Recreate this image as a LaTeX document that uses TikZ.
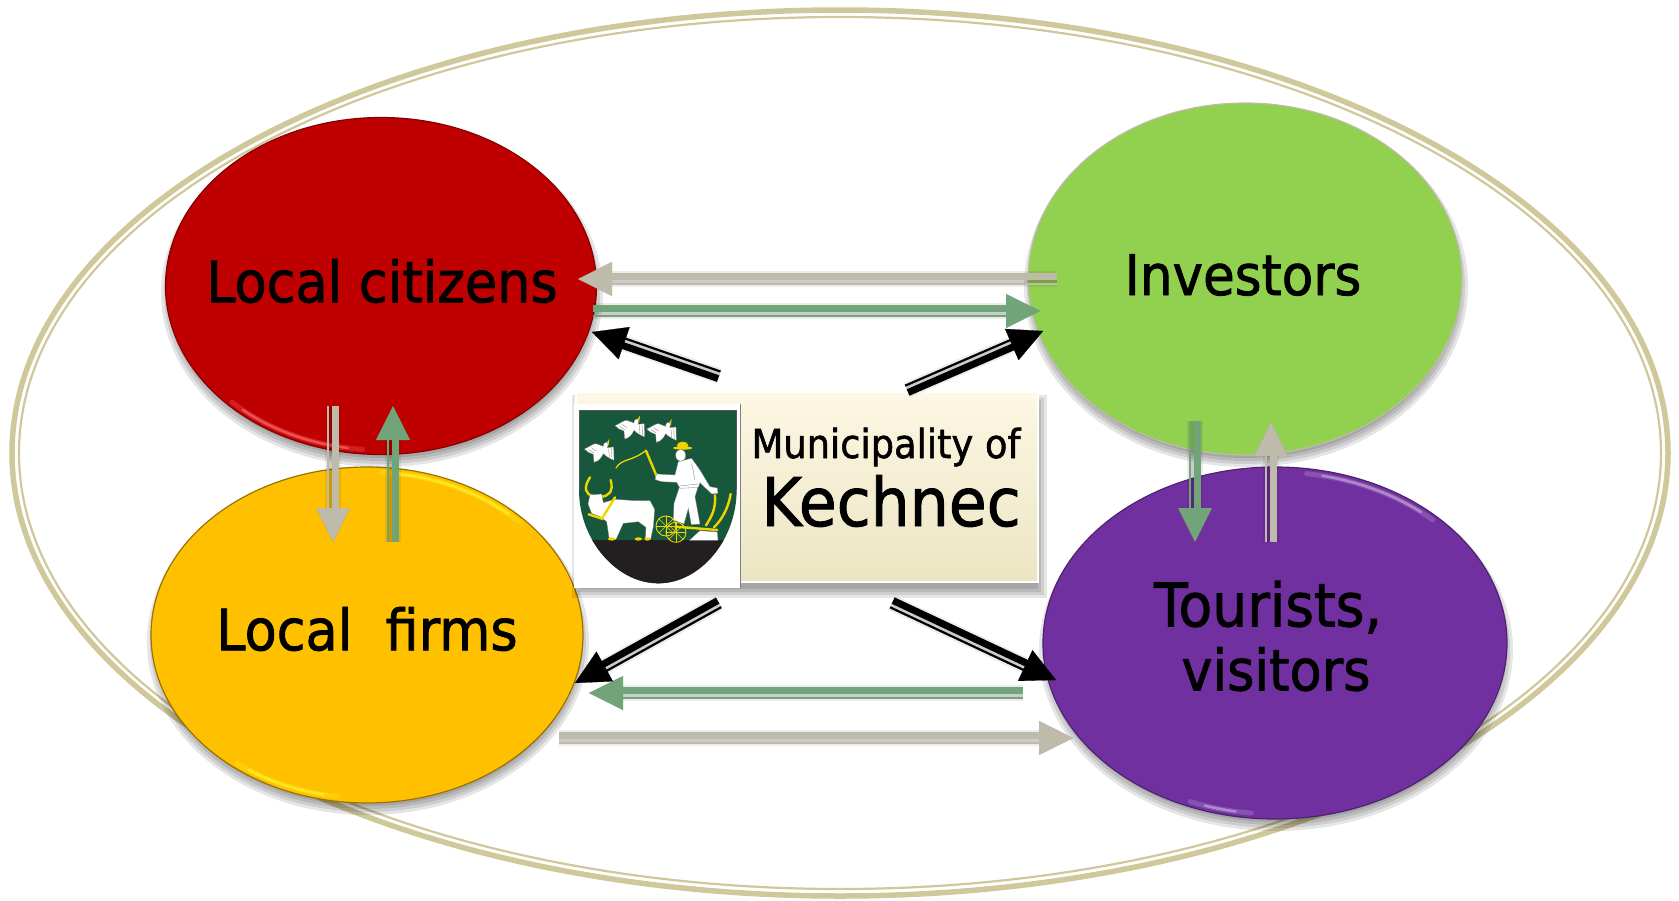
\documentclass[tikz,border=0pt]{standalone}
\usepackage{fontspec}
\setmainfont[FakeStretch=0.92,FakeBold=1.4]{DejaVu Sans}
\usetikzlibrary{arrows.meta, calc, shapes.geometric}
\definecolor{ringtan}{HTML}{CFC89A}
\definecolor{flowtan}{HTML}{BEBBAB}
\definecolor{flowgreen}{HTML}{72A479}
\definecolor{citizenred}{HTML}{BF0000}
\definecolor{firmyellow}{HTML}{FFC000}
\definecolor{investgreen}{HTML}{92D050}
\definecolor{touristviolet}{HTML}{7030A0}
\definecolor{shieldgreen}{HTML}{17573B}
\definecolor{shieldblack}{HTML}{231F20}
\definecolor{plowyellow}{HTML}{F0D400}
\definecolor{boxtop}{HTML}{FDF7E4}
\definecolor{boxbottom}{HTML}{ECE5C3}
\tikzset{
  bubble/.style={ellipse, inner sep=0pt, line width=1.2pt},
  bubbletext/.style={font=\fontsize{57}{64}\selectfont, text=black},
  hdrsmall/.style={anchor=base, font=\fontsize{40}{44}\selectfont},
  hdrbig/.style={anchor=base, font=\fontsize{67}{70}\selectfont},
  feather/.style={draw=gray, line width=.35pt},
  whitepart/.style={fill=white, draw=gray, line width=.3pt},
  yellowpart/.style={draw=plowyellow, line width=2.4pt, line cap=round}
}
% one flow arrow: colour, start, tip, side of the thin line
\newcommand{\flowarrow}[4]{
  \foreach \w in {16,12,8}
    \draw[black, opacity=.07, line width=\w pt, shift={(1,4)}] (#2) -- ($(#3)!32pt!(#2)$);
  \draw[black, opacity=.18, line width=.1pt, shift={(1,4)}, -{Triangle[length=34pt,width=34pt]}] (#2) -- (#3);
  \draw[#1, line width=.1pt, -{Triangle[length=34pt,width=34pt]}] (#2) -- (#3);
  \draw[#1, line width=7pt] ($(#2)!#4*-2.7pt!90:(#3)$) -- ($(#3)!32pt!(#2)!#4*-2.7pt!-90:(#2)$);
  \draw[#1, line width=2.2pt] ($(#2)!#4*4.7pt!90:(#3)$) -- ($(#3)!32pt!(#2)!#4*4.7pt!-90:(#2)$);
}
% light rim on a bubble: cx, cy, rx, ry, from, to, colour
\newcommand{\rimarc}[7]{
  \draw[#7, line width=5pt, line cap=round, domain=#5:#6, samples=30, opacity=.3]
    plot ({#1+(#3-5)*cos(\x)},{#2+(#4-5)*sin(\x)});
  \draw[#7, line width=2.5pt, line cap=round, domain=#5+4:#6-4, samples=30, opacity=.7]
    plot ({#1+(#3-5)*cos(\x)},{#2+(#4-5)*sin(\x)});
}
\newcommand{\dove}[2]{
  \begin{scope}[shift={(#1,#2)}]
    \fill[plowyellow] (20,-24) -- (30,-38) -- (28,-20) -- cycle;
    \filldraw[whitepart] (-45,-8) .. controls (-30,-14) and (-20,-24) .. (-10,-24) .. controls (0,-22) and (8,-16) .. (12,-16) .. controls (12,-26) and (18,-30) .. (24,-28) .. controls (28,-24) and (26,-16) .. (24,-12) -- (43,-14) -- (44,26) .. controls (30,20) and (20,14) .. (12,6) .. controls (6,18) and (0,28) .. (-16,32) -- (-18,8) .. controls (-28,6) and (-36,0) .. (-45,-8) -- cycle;
    \draw[feather] (28,-8) -- (30,16) (36,-10) -- (38,20) (-32,-6) -- (-16,4) (-24,-12) -- (-10,-2);
  \end{scope}
}
\begin{document}
\begin{tikzpicture}[x=1pt,y=-1pt]
\useasboundingbox (0,0) rectangle (1679,900);
% outer ring
\draw[ringtan, line width=5.5pt] (840,453) ellipse [x radius=828, y radius=443];
\draw[ringtan, line width=2.2pt] (840,453) ellipse [x radius=821, y radius=436];
% soft shadows under the bubbles
\foreach \cx/\cy/\rx/\ry in {381/286/216/169, 1245/279/217/176, 367/635/216/168, 1275/643/232/176}
  \foreach \g in {5,2,-1,-4}
    \fill[black, opacity=.1] (\cx+1,\cy+7) ellipse [x radius=\rx+\g, y radius=\ry+\g];
% bubbles
\node[bubble, fill=citizenred, draw=citizenred!70!black, minimum width=431pt, minimum height=337pt] (citizens) at (381,286) {};
\node[bubble, fill=investgreen, draw=flowtan, minimum width=434pt, minimum height=352pt] (investors) at (1245,279) {};
\node[bubble, fill=firmyellow, draw=firmyellow!60!black, minimum width=432pt, minimum height=336pt] (firms) at (367,635) {};
\node[bubble, fill=touristviolet, draw=touristviolet!70!black, minimum width=464pt, minimum height=352pt] (tourists) at (1275,643) {};
\rimarc{381}{286}{216}{169}{95}{135}{red!60!white}
\rimarc{367}{635}{216}{168}{-86}{-44}{yellow!85!white}
\rimarc{367}{635}{216}{168}{98}{128}{yellow!85!white}
\rimarc{1275}{643}{232}{176}{-82}{-46}{touristviolet!45!white}
\rimarc{1275}{643}{232}{176}{96}{112}{touristviolet!45!white}
% bubble texts
\node[bubbletext] (citizenstext) at (382,281) {Local citizens};
\node[bubbletext, font=\fontsize{56}{64}\selectfont] (investorstext) at (1243,275) {Investors};
\node[bubbletext] (firmstext) at (367,629) {Local\ \ firms};
\node[bubbletext, align=center] (touriststext) at (1276,636) {{\fontsize{60}{64}\selectfont Tourists,\hspace*{16pt}}\\visitors};
% centre box
\foreach \g in {5,2,-1,-4}
  \fill[black, opacity=.1] (575-\g+2,391+9-\g) rectangle (1040+\g+2,584+9+\g);
\node[draw=white, line width=2.5pt, top color=boxtop, bottom color=boxbottom, minimum width=462pt, minimum height=190pt, inner sep=0pt] (muni) at (807,487) {};
\node[hdrsmall] (munitext) at (886,458) {Municipality of};
\node[hdrbig] (kechnectext) at (891,526) {Kechnec};
% coat of arms
\fill[white] (574,404) rectangle (740,588);
\draw[gray, line width=.8pt] (740,404) -- (740,588);
\begin{scope}[shift={(560,380)},x=0.3333pt,y=-0.3333pt]
  \fill[shieldgreen] (57,92) -- (530,92) -- (530,330) .. controls (530,480) and (420,610) .. (295,610) .. controls (170,610) and (57,480) .. (57,330) -- cycle;
  \begin{scope}
    \clip (57,92) -- (530,92) -- (530,330) .. controls (530,480) and (420,610) .. (295,610) .. controls (170,610) and (57,480) .. (57,330) -- cycle;
    \fill[shieldblack] (40,481) rectangle (545,620);
  \end{scope}
  \draw[gray!70!black, line width=.9pt] (530,330) -- (530,92) -- (57,92) -- (57,330);
  \dove{118}{215}
  \dove{210}{145}
  \dove{305}{155}
  % whip
  \draw[yellowpart, line width=1.3pt] (168,264) .. controls (185,235) and (215,245) .. (257,212);
  \draw[yellowpart] (258,212) -- (295,300);
  % man
  \filldraw[whitepart] (340,420) -- (342,370) -- (358,322) -- (415,318) -- (405,350) -- (420,432) -- (394,434) -- (385,385) -- (372,432) -- cycle;
  \filldraw[whitepart] (355,245) -- (395,235) -- (420,270) -- (450,320) -- (472,324) -- (474,340) -- (455,342) -- (420,308) -- (415,322) -- (360,325) -- (350,307) -- (305,305) -- (285,298) -- (290,282) -- (345,285) -- cycle;
  \filldraw[whitepart] (362,226) ellipse [x radius=15, y radius=18];
  \fill[plowyellow] (368,204) ellipse [x radius=29, y radius=5];
  \fill[plowyellow] (368,196) ellipse [x radius=17, y radius=11];
  \draw[feather] (360,318) -- (415,312) (395,250) -- (405,300);
  % ox
  \draw[yellowpart] (90,292) .. controls (68,325) and (78,345) .. (100,348);
  \draw[yellowpart] (152,300) .. controls (162,335) and (145,350) .. (122,350);
  \filldraw[whitepart] (130,368) -- (165,358) -- (225,362) -- (270,362) -- (284,388) -- (280,440) -- (272,478) -- (256,478) -- (258,442) -- (235,425) -- (190,430) -- (168,478) -- (148,478) -- (140,425) -- (120,410) -- (95,400) -- (84,372) -- (90,345) -- (125,342) -- cycle;
  \draw[yellowpart] (165,352) -- (126,416) -- (86,403);
  \fill[plowyellow] (155,477) ellipse [x radius=11, y radius=5];
  \fill[plowyellow] (235,477) ellipse [x radius=11, y radius=5];
  \fill[plowyellow] (262,477) ellipse [x radius=9, y radius=5];
  % plough
  \filldraw[whitepart] (388,481) -- (420,452) -- (472,456) -- (474,481) -- cycle;
  \draw[yellowpart] (465,345) .. controls (468,385) and (455,410) .. (438,436);
  \draw[yellowpart] (512,342) .. controls (505,385) and (485,420) .. (462,442);
  \draw[yellowpart] (345,440) -- (472,450);
  \foreach \wx/\wy in {318/438, 348/457} {
    \draw[plowyellow, line width=.9pt] (\wx,\wy) circle (30);
    \foreach \a in {0,45,...,135}
      \draw[plowyellow, line width=.5pt] (\wx,\wy) ++(\a:30) -- ++(\a+180:60);
  }
\end{scope}
% flow arrow ends
\coordinate (inv-cit-a) at (1057,279);
\coordinate (inv-cit-b) at (578,279);
\coordinate (cit-inv-a) at (593,311);
\coordinate (cit-inv-b) at (1040,311);
\coordinate (cit-firm-a) at (333,406);
\coordinate (cit-firm-b) at (333,542);
\coordinate (firm-cit-a) at (393,542);
\coordinate (firm-cit-b) at (393,406);
\coordinate (inv-tour-a) at (1195,421);
\coordinate (inv-tour-b) at (1195,542);
\coordinate (tour-inv-a) at (1271,542);
\coordinate (tour-inv-b) at (1271,422);
\coordinate (tour-firm-a) at (1023,693);
\coordinate (tour-firm-b) at (589,693);
\coordinate (firm-tour-a) at (559,738);
\coordinate (firm-tour-b) at (1073,738);
\coordinate (muni-cit-a) at (719,376);
\coordinate (muni-cit-b) at (592,332);
\coordinate (muni-inv-a) at (907,390);
\coordinate (muni-inv-b) at (1043,331);
\coordinate (muni-firm-a) at (719,603);
\coordinate (muni-firm-b) at (575,683);
\coordinate (muni-tour-a) at (892,603);
\coordinate (muni-tour-b) at (1056,680);
% flows between the groups
\flowarrow{flowtan}{inv-cit-a}{inv-cit-b}{1}
\flowarrow{flowgreen}{cit-inv-a}{cit-inv-b}{-1}
\flowarrow{flowtan}{cit-firm-a}{cit-firm-b}{-1}
\flowarrow{flowgreen}{firm-cit-a}{firm-cit-b}{1}
\flowarrow{flowgreen}{inv-tour-a}{inv-tour-b}{-1}
\flowarrow{flowtan}{tour-inv-a}{tour-inv-b}{1}
\flowarrow{flowgreen}{tour-firm-a}{tour-firm-b}{1}
\flowarrow{flowtan}{firm-tour-a}{firm-tour-b}{-1}
% flows from the municipality
\flowarrow{black}{muni-cit-a}{muni-cit-b}{-1}
\flowarrow{black}{muni-inv-a}{muni-inv-b}{1}
\flowarrow{black}{muni-firm-a}{muni-firm-b}{1}
\flowarrow{black}{muni-tour-a}{muni-tour-b}{-1}
\end{tikzpicture}
\end{document}
